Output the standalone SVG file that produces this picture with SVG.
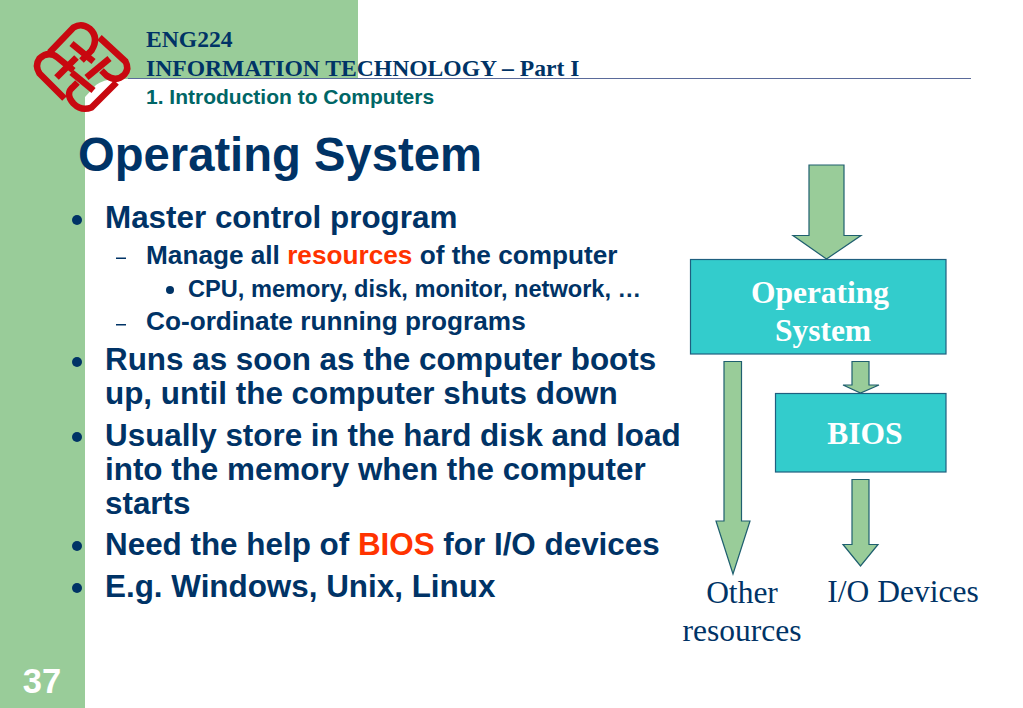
<svg xmlns="http://www.w3.org/2000/svg" width="1023" height="708" viewBox="0 0 1023 708">
<style>
.s{font-family:"Liberation Sans",Arial,sans-serif;font-weight:bold;fill:#003366}
.t{font-family:"Liberation Serif","Times New Roman",serif}
.b{fill:#33CCCC;stroke:#1F5F7F;stroke-width:1.2}
.a{fill:#99CC99;stroke:#1F5F6F;stroke-width:1.2}
.l1{font-size:31.4px}.l2{font-size:26.2px}.l3{font-size:23.600px}
.w{font-size:31.500px;font-weight:bold;fill:#fff;text-anchor:middle}
.d{font-size:31.500px;fill:#003366;text-anchor:middle}
.r{fill:#FF3300}
.h{font-size:23.600px;font-weight:bold;fill:#003366}
</style>
<g id="background">
<rect width="1023" height="708" fill="#fff"/>
<rect x="0" y="0" width="85" height="708" fill="#99CC99"/>
<rect x="85" y="0" width="273" height="79" fill="#99CC99"/>
<path d="M85 78H118Q102 80 96 85L85 97Z" fill="#99CC99"/>
</g>
<g id="logo" fill="none" stroke="#C80810" stroke-width="6.500" stroke-linejoin="round" transform="translate(1.500 0.500)">
<path d="M48 52L72 27Q80 22 88 28Q98 37 90 50L80 60"/>
<path d="M70 43L92 61"/>
<path d="M98 37L124 61Q128 68 123 74Q115 82 105 75L100 70"/>
<path d="M85 77L108 58"/>
<path d="M63 98L38 73Q33 65 38 58Q47 50 56 57L72 70"/>
<path d="M55 77L75 57"/>
<path d="M70 72L92 90"/>
<path d="M115 82L90 107Q80 111 72 103Q63 93 72 86L76 82"/>
</g>
<g id="header">
<path d="M128 78.500H971" stroke="#5A6A9A" stroke-width="1" fill="none"/>
<text class="t h" x="146" y="47">ENG224</text>
<text class="t h" x="146" y="76">INFORMATION TECHNOLOGY – Part I</text>
<text class="s" x="146" y="104" font-size="21" style="fill:#006666">1. Introduction to Computers</text>
</g>
<text id="title" class="s" x="78" y="171" font-size="47.200">Operating System</text>
<g id="bullets">
<g fill="#003366">
<circle cx="77" cy="220" r="5"/><circle cx="77" cy="362" r="5"/><circle cx="77" cy="437" r="5"/><circle cx="77" cy="546" r="5"/><circle cx="77" cy="588" r="5"/><circle cx="170" cy="290" r="4"/>
</g>
<rect x="116" y="257.500" width="10" height="1.500" fill="#003366"/>
<rect x="116" y="324" width="10" height="1.500" fill="#003366"/>
<text class="s l1" x="105" y="228">Master control program</text>
<text class="s l2" x="146" y="264">Manage all <tspan class="r">resources</tspan> of the computer</text>
<text class="s l3" x="188" y="297">CPU, memory, disk, monitor, network, …</text>
<text class="s l2" x="146" y="330">Co-ordinate running programs</text>
<text class="s l1" x="105" y="370">Runs as soon as the computer boots</text>
<text class="s l1" x="105" y="404">up, until the computer shuts down</text>
<text class="s l1" x="105" y="446">Usually store in the hard disk and load</text>
<text class="s l1" x="105" y="480">into the memory when the computer</text>
<text class="s l1" x="105" y="514">starts</text>
<text class="s l1" x="105" y="555">Need the help of <tspan class="r">BIOS</tspan> for I/O devices</text>
<text class="s l1" x="105" y="597">E.g. Windows, Unix, Linux</text>
</g>
<g id="connectors">
<path class="a" d="M809 165H844V235.500H861L826.500 259L793 235.500H809Z"/>
<path class="a" d="M852 361.500H869V385H879L860.500 393L843 385H852Z"/>
<path class="a" d="M724 361.500H741.500V521H750L733 574L716 521H724Z"/>
<path class="a" d="M852 479.500H869V544.500H878L860.500 566L843 544.500H852Z"/>
</g>
<g id="node-os">
<rect class="b" x="690.500" y="259.500" width="255.500" height="94.500"/>
<text class="t w" x="820" y="303">Operating</text>
<text class="t w" x="823" y="341">System</text>
</g>
<g id="node-bios">
<rect class="b" x="775.500" y="393.500" width="170.500" height="78.500"/>
<text class="t w" x="865" y="444">BIOS</text>
</g>
<g id="label-other">
<text class="t d" x="742" y="603">Other</text>
<text class="t d" x="742" y="641">resources</text>
</g>
<text id="label-io" class="t d" x="903" y="602">I/O Devices</text>
<text id="page" class="s" x="42" y="693" font-size="34.500" text-anchor="middle" style="fill:#fff">37</text>
</svg>
